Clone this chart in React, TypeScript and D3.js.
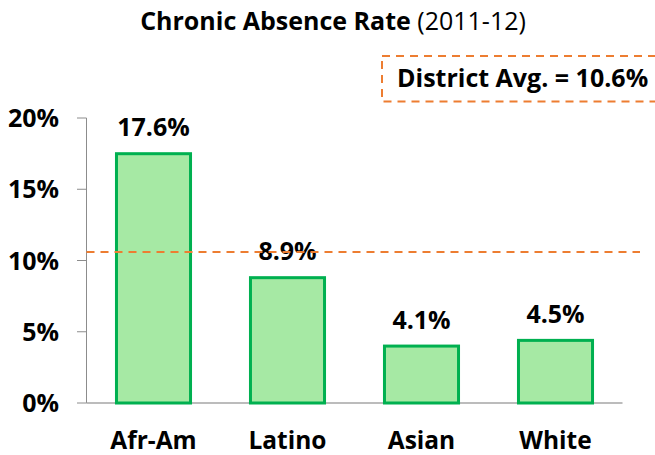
import React from "react";
import * as d3 from "d3";

const categories = ["Afr-Am", "Latino", "Asian", "White"];
const values = [17.6, 8.9, 4.1, 4.5];
const yTicks = [0, 5, 10, 15, 20];
const districtAvg = 10.6;
const titleBold = "Chronic Absence Rate";
const titleNormal = "(2011-12)";

const W = 655;
const H = 455;
const FONT = "'Open Sans', sans-serif";

export default function App() {
  const left = 86.5;
  const right = 622.5;
  const y = d3.scaleLinear().domain([0, 20]).range([403, 118]);
  const x = d3.scaleBand<string>().domain(categories).range([left, right]).paddingInner(0.425).paddingOuter(0.2125);
  const bw = x.bandwidth();
  const avgY = y(districtAvg);
  return (
    <svg width={W} height={H} style={{ position: "absolute", left: 0, top: 0 }} fontFamily={FONT}>
      <rect width={W} height={H} fill="#fff" />
      <text x={333} y={30} textAnchor="middle" fontSize={25} fill="#000">
        <tspan fontWeight="bold">{titleBold}</tspan>
        <tspan> {titleNormal}</tspan>
      </text>
      <rect x={382} y={56} width={290} height={45.5} fill="none" stroke="#ED7D31" strokeWidth={2} strokeDasharray="8,6" />
      <text x={397} y={87} fontSize={25} fontWeight="bold" fill="#000">District Avg. = {districtAvg.toFixed(1)}%</text>
      <line x1={left} x2={left} y1={y(20)} y2={y(0)} stroke="#8c8c8c" strokeWidth={1} />
      {yTicks.map((t) => (
        <g key={t}>
          <line x1={77} x2={left} y1={y(t)} y2={y(t)} stroke="#8c8c8c" strokeWidth={1} />
          <text x={59} y={y(t) + 9} textAnchor="end" fontSize={25} fontWeight="bold" fill="#000">{t}%</text>
        </g>
      ))}
      <line x1={left} x2={right} y1={y(0)} y2={y(0)} stroke="#a6a6a6" strokeWidth={1.5} />
      {categories.map((c, i) => (
        <g key={c}>
          <rect x={(x(c) as number) + 1.5} y={y(values[i]) + 1.5} width={bw - 3} height={y(0) - y(values[i]) - 1.5} fill="#A6E9A4" stroke="#00B050" strokeWidth={3} />
          <text x={(x(c) as number) + bw / 2} y={y(values[i]) - 16} textAnchor="middle" fontSize={25} fontWeight="bold" fill="#000">{values[i].toFixed(1)}%</text>
          <text x={(x(c) as number) + bw / 2} y={449} textAnchor="middle" fontSize={24.5} fontWeight="bold" fill="#000">{c}</text>
        </g>
      ))}
      <line x1={left} x2={640} y1={avgY} y2={avgY} stroke="#ED7D31" strokeWidth={2} strokeDasharray="8,6" />
    </svg>
  );
}
